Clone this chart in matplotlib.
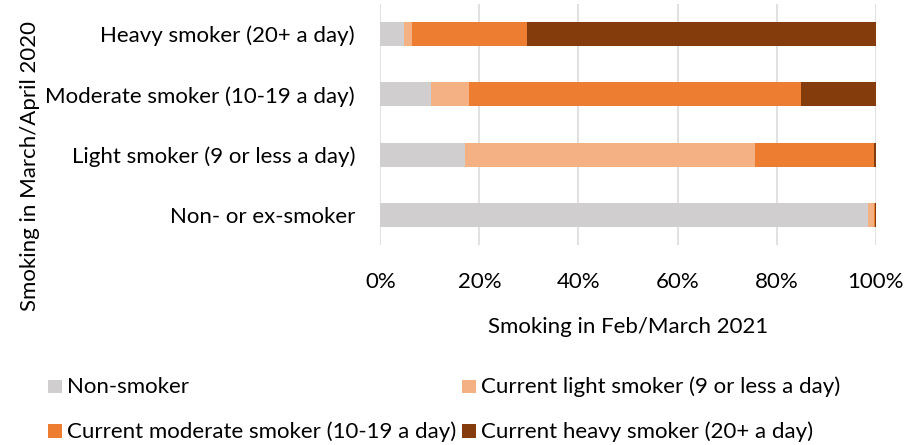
import matplotlib
matplotlib.use("Agg")
import matplotlib.pyplot as plt
from matplotlib.patches import Rectangle
from matplotlib.textpath import TextPath
from matplotlib.font_manager import FontProperties

categories = ["Non- or ex-smoker", "Light smoker (9 or less a day)",
              "Moderate smoker (10-19 a day)", "Heavy smoker (20+ a day)"]
series_names = ["Non-smoker", "Current light smoker (9 or less a day)",
                "Current moderate smoker (10-19 a day)", "Current heavy smoker (20+ a day)"]
non_smoker = [98.4, 17.1, 10.2, 4.7]
light = [1.3, 58.5, 7.8, 1.7]
moderate = [0.2, 24.0, 66.9, 23.2]
heavy = [0.1, 0.4, 15.1, 70.4]
xticks = [0, 20, 40, 60, 80, 100]
xtick_labels = ["0%", "20%", "40%", "60%", "80%", "100%"]

colors = ["#D0CECE", "#F4B183", "#ED7D31", "#843C0C"]
FAMILY = ['Lato', 'DejaVu Sans']
plt.rcParams['font.family'] = FAMILY
TXT = "#000000"

W, H = 906, 445
DPI = 100


def fit_size(text, target_px):
    fp = FontProperties(family=FAMILY, size=20)
    tp = TextPath((0, 0), text, prop=fp)
    ext = tp.get_extents()
    width_pt = ext.width  # in points at size 20
    width_px = width_pt * DPI / 72.0
    return 20 * target_px / width_px


FS = (fit_size("Heavy smoker (20+ a day)", 251) + fit_size("Moderate smoker (10-19 a day)", 306)
      + fit_size("Current moderate smoker (10-19 a day)", 385)) / 3.0

fig = plt.figure(figsize=(W / DPI, H / DPI), dpi=DPI)
x0, x1, ytop, ybot = 380.3, 875.7, 4, 245
ax = fig.add_axes([x0 / W, 1 - ybot / H, (x1 - x0) / W, (ybot - ytop) / H])

ypos = list(range(len(categories)))
left = [0] * len(categories)
for vals, c, name in zip([non_smoker, light, moderate, heavy], colors, series_names):
    ax.barh(ypos, vals, left=left, height=0.4, color=c, label=name, zorder=3)
    left = [a + b for a, b in zip(left, vals)]

ax.set_xlim(0, 100)
ax.set_ylim(-0.5, len(categories) - 0.5)
ax.set_xticks(xticks)
ax.set_xticklabels(xtick_labels, fontsize=FS, color=TXT, va='baseline')
ax.set_yticks(ypos)
ax.set_yticklabels(categories, fontsize=FS, color=TXT)
ax.tick_params(axis='both', length=0)
ax.tick_params(axis='y', pad=(x0 - 355) * 72 / DPI)
ax.tick_params(axis='x', pad=(287.5 - ybot) * 72 / DPI)
for s in ax.spines.values():
    s.set_visible(False)
ax.grid(axis='x', color="#D9D9D9", linewidth=1.1, zorder=0)
ax.set_axisbelow(True)

fig.text((x0 + x1) / 2 / W, 1 - 333.4 / H, "Smoking in Feb/March 2021", ha='center', va='baseline',
         fontsize=FS, color=TXT)
fig.text(36.5 / W, 1 - 166 / H, "Smoking in March/April 2020", ha='center', va='baseline',
         rotation=90, rotation_mode='anchor', fontsize=FS, color=TXT)

# legend
leg_pos = [(48.3, 393.3), (462.3, 393.3), (48.3, 437.7), (462.3, 437.7)]
for (x, y), c, name in zip(leg_pos, colors, series_names):
    fig.patches.append(Rectangle((x / W, 1 - y / H), 13.7 / W, 13.5 / H,
                                 transform=fig.transFigure, facecolor=c, edgecolor='none'))
    fig.text((x + 18.4) / W, 1 - y / H, name, ha='left', va='baseline', fontsize=FS, color=TXT)

fig.savefig("out.png", dpi=DPI)
